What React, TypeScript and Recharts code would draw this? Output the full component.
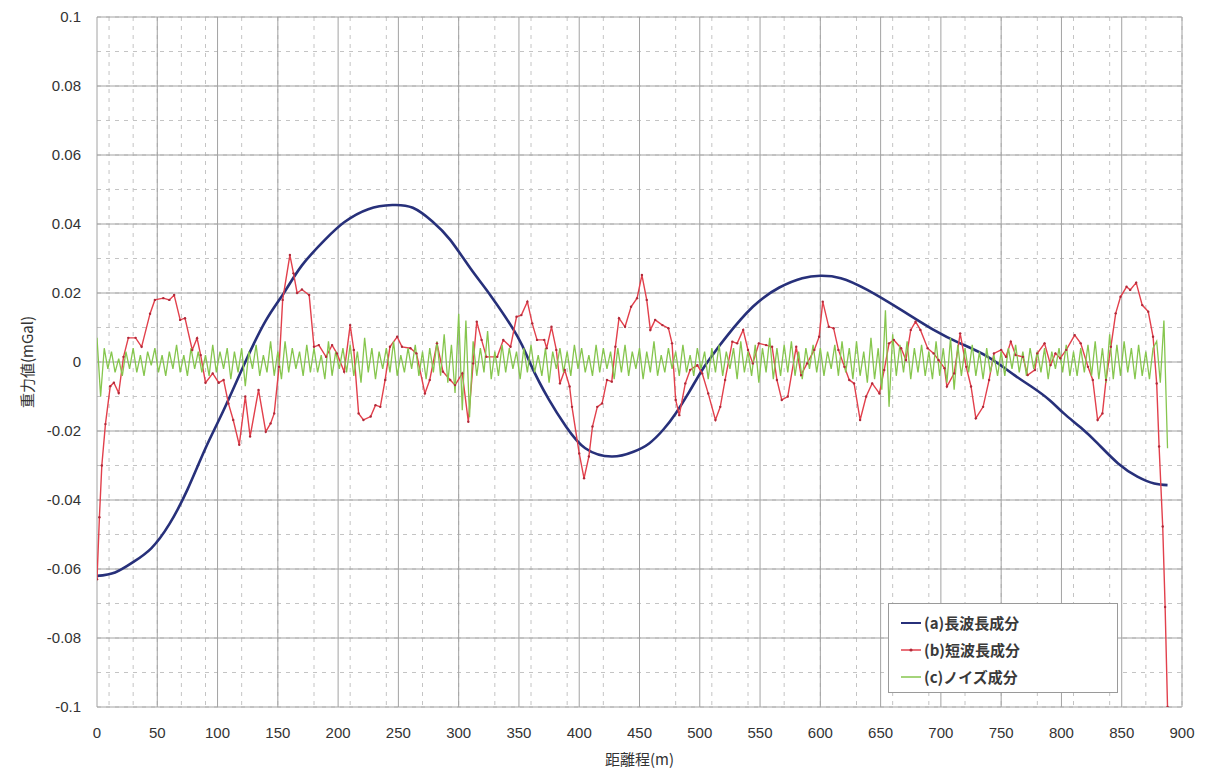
import React from 'react';
import { LineChart, Line, XAxis, YAxis, CartesianGrid } from 'recharts';

// 距離程 (m) と各成分 (mGal)
const longDist = [0, 15, 30, 45, 60, 75, 90, 105, 123, 140, 155, 170, 189, 205, 225, 245, 262, 278, 293, 310, 327, 349, 360, 375, 389, 405, 427, 445, 458, 470, 480, 491, 502, 512, 522, 544, 566, 585, 600, 617, 639, 667, 694, 716, 739, 761, 775, 790, 802, 816, 830, 847, 863, 877, 888];
const longWave = [-0.062, -0.061, -0.058, -0.054, -0.047, -0.037, -0.025, -0.014, 0.0, 0.012, 0.02, 0.028, 0.0354, 0.0405, 0.0443, 0.0455, 0.0447, 0.0408, 0.0354, 0.027, 0.019, 0.0073, -0.0009, -0.011, -0.0187, -0.025, -0.0274, -0.026, -0.0236, -0.0195, -0.0149, -0.0088, -0.0023, 0.0027, 0.0073, 0.016, 0.0216, 0.0243, 0.025, 0.0243, 0.0209, 0.0151, 0.0093, 0.0054, 0.0015, -0.0038, -0.0071, -0.011, -0.0149, -0.019, -0.0236, -0.0294, -0.0332, -0.0352, -0.0357];

const shortDist = [0, 2, 4, 7, 11, 14, 18, 22, 26, 32, 37, 44, 48, 55, 60, 64, 69, 73, 79, 83, 86, 90, 96, 101, 105, 109, 113, 118, 123, 127, 134, 140, 144, 147, 151, 154, 160, 163, 166, 170, 176, 180, 184, 190, 195, 199, 205, 210, 213, 217, 221, 227, 231, 235, 239, 243, 249, 253, 260, 265, 272, 276, 282, 287, 293, 297, 303, 308, 312, 315, 319, 323, 332, 337, 343, 348, 352, 357, 361, 365, 371, 373, 377, 381, 384, 388, 392, 394, 400, 404, 408, 411, 415, 419, 423, 427, 430, 433, 438, 443, 448, 452, 456, 459, 463, 469, 474, 477, 480, 483, 488, 492, 498, 502, 507, 513, 517, 521, 527, 531, 536, 540, 544, 549, 555, 560, 564, 568, 573, 580, 584, 589, 595, 599, 602, 607, 611, 615, 620, 624, 628, 633, 638, 643, 649, 653, 657, 661, 667, 671, 675, 679, 683, 689, 694, 698, 703, 705, 711, 716, 721, 725, 729, 735, 740, 744, 750, 754, 758, 762, 768, 772, 778, 780, 786, 791, 795, 799, 804, 811, 816, 822, 826, 830, 834, 837, 841, 845, 849, 854, 857, 862, 867, 872, 876, 879, 881, 884, 886, 888];
const shortWave = [-0.063, -0.045, -0.03, -0.018, -0.007, -0.006, -0.009, 0.0015, 0.007, 0.007, 0.0044, 0.014, 0.018, 0.0185, 0.018, 0.0194, 0.0122, 0.0127, 0.0035, 0.0069, 0.002, -0.006, -0.0033, -0.006, -0.0052, -0.012, -0.0168, -0.024, -0.01, -0.0216, -0.0081, -0.0202, -0.0178, -0.0149, -0.0014, 0.018, 0.031, 0.0257, 0.02, 0.021, 0.0194, 0.0044, 0.0049, 0.0015, 0.0049, 0.0025, -0.0028, 0.0107, 0.0035, -0.0149, -0.0168, -0.0158, -0.0125, -0.013, -0.0052, 0.0044, 0.0073, 0.0044, 0.004, 0.0025, -0.0091, -0.0052, 0.0054, -0.0028, -0.0052, -0.0067, -0.0033, -0.0173, -0.0004, 0.0117, 0.0064, 0.0015, 0.0015, 0.0064, 0.0044, 0.0131, 0.0136, 0.0175, 0.0112, 0.0064, 0.0064, 0.004, 0.0102, 0.0035, -0.0062, -0.0023, -0.0071, -0.013, -0.0265, -0.0337, -0.0274, -0.0187, -0.013, -0.012, -0.0052, -0.0057, 0.0044, 0.0127, 0.0102, 0.016, 0.0185, 0.0252, 0.018, 0.0093, 0.0122, 0.0107, 0.0098, 0.0054, -0.011, -0.0154, -0.0062, -0.0023, -0.0009, -0.0033, -0.0091, -0.0168, -0.013, -0.0052, 0.0059, 0.0054, 0.0093, 0.0035, -0.0004, 0.0054, 0.0049, 0.0044, -0.0052, -0.011, -0.01, 0.0044, -0.0038, -0.0004, 0.0035, 0.0073, 0.0175, 0.0102, 0.0098, 0.0035, -0.0014, -0.0052, -0.0062, -0.0168, -0.01, -0.0062, -0.0091, -0.0023, 0.0054, 0.0064, 0.004, 0.0006, 0.0093, 0.0117, 0.0093, 0.004, 0.0025, 0.0006, -0.0018, -0.0071, -0.0033, 0.0083, -0.0014, -0.0071, -0.0163, -0.013, -0.0052, 0.0025, 0.0035, 0.0015, 0.0059, 0.002, 0.0015, -0.0038, -0.0023, 0.0025, 0.0054, -0.0009, 0.0025, 0.0011, 0.0035, 0.0078, 0.0054, -0.0014, -0.0052, -0.0168, -0.0149, -0.0052, 0.0044, 0.0141, 0.0189, 0.0218, 0.0209, 0.023, 0.0165, 0.0146, 0.0073, -0.0062, -0.0245, -0.0477, -0.071, -0.1];

// ノイズ成分: 3 m 間隔 (0–888 m)
const noiseStep = 3;
const noise = [
  0.007, -0.010, 0.004, -0.002, 0.003, -0.003, 0.001, -0.004, 0.003, -0.002,
  0.004, -0.003, 0.002, -0.004, 0.003, -0.001, 0.004, -0.003, 0.002, -0.004,
  0.003, -0.002, 0.005, -0.003, 0.002, -0.004, 0.004, -0.002, 0.003, -0.003,
  0.002, -0.004, 0.005, -0.003, 0.003, -0.002, 0.004, -0.005, 0.003, -0.003,
  0.004, -0.007, 0.003, -0.002, 0.005, -0.004, 0.002, -0.003, 0.006, -0.004,
  0.003, -0.005, 0.006, -0.003, 0.004, -0.002, 0.003, -0.004, 0.005, -0.003,
  0.004, -0.003, 0.002, -0.005, 0.006, -0.004, 0.003, -0.002, 0.004, -0.003,
  0.005, -0.004, 0.003, -0.006, 0.007, -0.003, 0.004, -0.005, 0.003, -0.002,
  0.004, -0.003, 0.006, -0.004, 0.002, -0.003, 0.004, -0.002, 0.005, -0.004,
  0.003, -0.005, 0.004, -0.003, 0.006, -0.004, 0.008, -0.006, 0.005, -0.009,
  0.014, -0.014, 0.012, -0.016, 0.006, -0.004, 0.004, -0.003, 0.009, -0.005,
  0.003, -0.004, 0.005, -0.003, 0.004, -0.002, 0.003, -0.005, 0.004, -0.003,
  0.005, -0.003, 0.002, -0.004, 0.004, -0.006, 0.003, -0.002, 0.004, -0.003,
  0.003, -0.004, 0.005, -0.002, 0.004, -0.003, 0.002, -0.004, 0.005, -0.003,
  0.004, -0.002, 0.003, -0.005, 0.004, -0.003, 0.005, -0.004, 0.003, -0.002,
  0.004, -0.005, 0.003, -0.003, 0.006, -0.004, 0.002, -0.003, 0.004, -0.002,
  0.003, -0.004, 0.005, -0.003, 0.002, -0.004, 0.004, -0.002, 0.003, -0.005,
  0.004, -0.003, 0.005, -0.004, 0.003, -0.002, 0.004, -0.005, 0.006, -0.003,
  0.003, -0.004, 0.005, -0.006, 0.004, -0.003, 0.007, -0.005, 0.004, -0.004,
  0.005, -0.003, 0.006, -0.004, 0.003, -0.005, 0.004, -0.002, 0.005, -0.003,
  0.004, -0.004, 0.003, -0.002, 0.005, -0.004, 0.006, -0.003, 0.004, -0.005,
  0.006, -0.004, 0.003, -0.006, 0.007, -0.005, 0.004, -0.008, 0.015, -0.013,
  0.008, -0.004, 0.005, -0.003, 0.006, -0.005, 0.004, -0.003, 0.005, -0.004,
  0.003, -0.005, 0.006, -0.004, 0.004, -0.006, 0.007, -0.008, 0.005, -0.004,
  0.004, -0.003, 0.005, -0.004, 0.003, -0.005, 0.004, -0.003, 0.002, -0.004,
  0.003, -0.004, 0.004, -0.002, 0.005, -0.003, 0.003, -0.004, 0.004, -0.002,
  0.003, -0.003, 0.004, -0.005, 0.003, -0.002, 0.004, -0.003, 0.005, -0.004,
  0.003, -0.004, 0.004, -0.003, 0.005, -0.004, 0.006, -0.005, 0.004, -0.006,
  0.008, -0.005, 0.005, -0.004, 0.006, -0.003, 0.004, -0.005, 0.005, -0.004,
  0.003, -0.005, 0.004, 0.006, -0.006, 0.012, -0.025,
];

const xTicks = [0, 50, 100, 150, 200, 250, 300, 350, 400, 450, 500, 550, 600, 650, 700, 750, 800, 850, 900];
const yTicks = [-0.1, -0.08, -0.06, -0.04, -0.02, 0, 0.02, 0.04, 0.06, 0.08, 0.1];

const seriesNames = ['(a)長波長成分', '(b)短波長成分', '(c)ノイズ成分'];
const seriesColors = ['#27307a', '#e2404c', '#86c64e'];

const longData = longDist.map((d, i) => ({ d, v: longWave[i] }));
const shortData = shortDist.map((d, i) => ({ d, v: shortWave[i] }));
const noiseData = noise.map((v, i) => ({ d: i * noiseStep, v }));

// 補助目盛 (10 m / 0.01 mGal)
const minorX = Array.from({ length: 91 }, (_, i) => i * 10);
const minorY = Array.from({ length: 21 }, (_, i) => Math.round((-0.1 + i * 0.01) * 1000) / 1000);

const FONT = '"Liberation Sans", Arial, "Noto Sans CJK JP", sans-serif';
const JP = '"Noto Sans CJK JP", sans-serif';

function LegendBox() {
  return (
    <div
      style={{
        position: 'absolute',
        left: 888,
        top: 603,
        width: 230,
        height: 90,
        border: '1px solid #9a9a9a',
        background: '#fff',
        boxSizing: 'border-box',
        paddingTop: 5,
        paddingLeft: 12,
      }}
    >
      {seriesNames.map((name, i) => (
        <div key={name} style={{ display: 'flex', alignItems: 'center', height: 27 }}>
          <svg width={20} height={10} style={{ marginRight: 3 }}>
            <line x1={0} y1={5} x2={20} y2={5} stroke={seriesColors[i]} strokeWidth={i === 0 ? 2 : 1.5} />
            {i === 1 && <circle cx={10} cy={5} r={1.6} fill="#b02a3a" />}
          </svg>
          <span style={{ fontFamily: JP, fontSize: 15, fontWeight: 700, color: '#3a3a3a' }}>{name}</span>
        </div>
      ))}
    </div>
  );
}

export default function App() {
  return (
    <div style={{ width: 1206, height: 773, background: '#fff', position: 'relative' }}>
      <style>{'body { margin: 0; }'}</style>
      <LineChart width={1206} height={773} margin={{ top: 17, right: 24, left: 0, bottom: 0 }}>
        <CartesianGrid
          verticalValues={minorX}
          horizontalValues={minorY}
          stroke="#c4c4c4"
          strokeDasharray="4 5"
        />
        <CartesianGrid verticalValues={xTicks} horizontalValues={yTicks} stroke="#a2a2a2" />
        <XAxis
          type="number"
          dataKey="d"
          domain={[0, 900]}
          ticks={xTicks}
          allowDataOverflow
          axisLine={false}
          tickLine={false}
          tickSize={0}
          tickMargin={20}
          height={66}
          tick={{ fontSize: 15, fill: '#333', fontFamily: FONT }}
          label={{
            value: '距離程(m)',
            position: 'insideBottom',
            offset: 8,
            style: { fontSize: 15, fill: '#333', fontFamily: JP },
          }}
        />
        <YAxis
          type="number"
          dataKey="v"
          domain={[-0.1, 0.1]}
          ticks={yTicks}
          allowDataOverflow
          axisLine={false}
          tickLine={false}
          tickSize={0}
          tickMargin={16}
          width={97}
          tick={{ fontSize: 15, fill: '#333', fontFamily: FONT }}
          label={{
            value: '重力値(mGal)',
            angle: -90,
            position: 'insideLeft',
            offset: 28,
            style: { textAnchor: 'middle', fontSize: 15, fill: '#333', fontFamily: JP },
          }}
        />
        <Line
          data={longData}
          dataKey="v"
          name={seriesNames[0]}
          type="natural"
          stroke={seriesColors[0]}
          strokeWidth={2.6}
          dot={false}
          isAnimationActive={false}
        />
        <Line
          data={shortData}
          dataKey="v"
          name={seriesNames[1]}
          type="linear"
          stroke={seriesColors[1]}
          strokeWidth={1.4}
          dot={{ r: 1.2, fill: '#b02a3a', stroke: 'none' }}
          isAnimationActive={false}
        />
        <Line
          data={noiseData}
          dataKey="v"
          name={seriesNames[2]}
          type="linear"
          stroke={seriesColors[2]}
          strokeWidth={1.3}
          dot={false}
          isAnimationActive={false}
        />
      </LineChart>
      <LegendBox />
    </div>
  );
}
